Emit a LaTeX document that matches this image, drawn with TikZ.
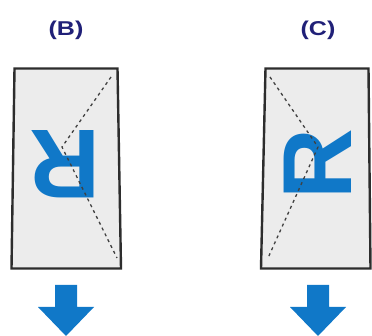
\documentclass[tikz,border=0pt]{standalone}
\usepackage{fontspec}
\setmainfont{Liberation Sans}
\definecolor{canonblue}{RGB}{16,120,200}
\definecolor{labelnavy}{RGB}{32,32,120}
\definecolor{sheetfill}{RGB}{236,236,236}
\definecolor{sheetedge}{RGB}{45,45,45}
\tikzset{
  sheet/.style={draw=sheetedge, fill=sheetfill, line width=2.4pt, line join=miter},
  fold/.style={draw=black!75, line width=1.3pt, dash pattern=on 3pt off 3.5pt},
  bigR/.style={inner sep=0pt, text=canonblue, font=\fontsize{98}{98}\selectfont\bfseries},
  tag/.style={inner sep=0pt, text=labelnavy, font=\fontsize{20}{20}\selectfont\bfseries, xscale=1.25},
  downarrow/.style={fill=canonblue, draw=none}
}
\begin{document}
\begin{tikzpicture}[x=1pt,y=-1pt]
\useasboundingbox (0,0) rectangle (372,336);
\fill[white] (0,0) rectangle (372,336);
% labels
\node[tag] (labB) at (66,30) {(B)};
\node[tag] (labC) at (318,30) {(C)};
% sheets
\draw[sheet] (14.5,68.5) -- (117.5,68.5) -- (121,268.5) -- (11.5,268.5) -- cycle;
\draw[sheet] (265.5,68.5) -- (368.5,68.5) -- (370.5,268.5) -- (261,268.5) -- cycle;
% letters
\node[bigR, rotate=180] (RB) at (65,164) {R};
\node[bigR, rotate=90] (RC) at (318,164) {R};
% fold lines
\coordinate (b1) at (111,77);
\coordinate (b2) at (62,147);
\coordinate (b3) at (117,258);
\coordinate (c1) at (270,77);
\coordinate (c2) at (318,147);
\coordinate (c3) at (268,258);
\draw[fold] (b1) -- (b2) -- (b3);
\draw[fold] (c1) -- (c2) -- (c3);
% arrows
\fill[downarrow] (55,285) -- (77,285) -- (77,307) -- (94,307) -- (66,336) -- (38,307) -- (55,307) -- cycle;
\fill[downarrow] (307,285) -- (329,285) -- (329,307) -- (346,307) -- (318,336) -- (290,307) -- (307,307) -- cycle;
\end{tikzpicture}
\end{document}
